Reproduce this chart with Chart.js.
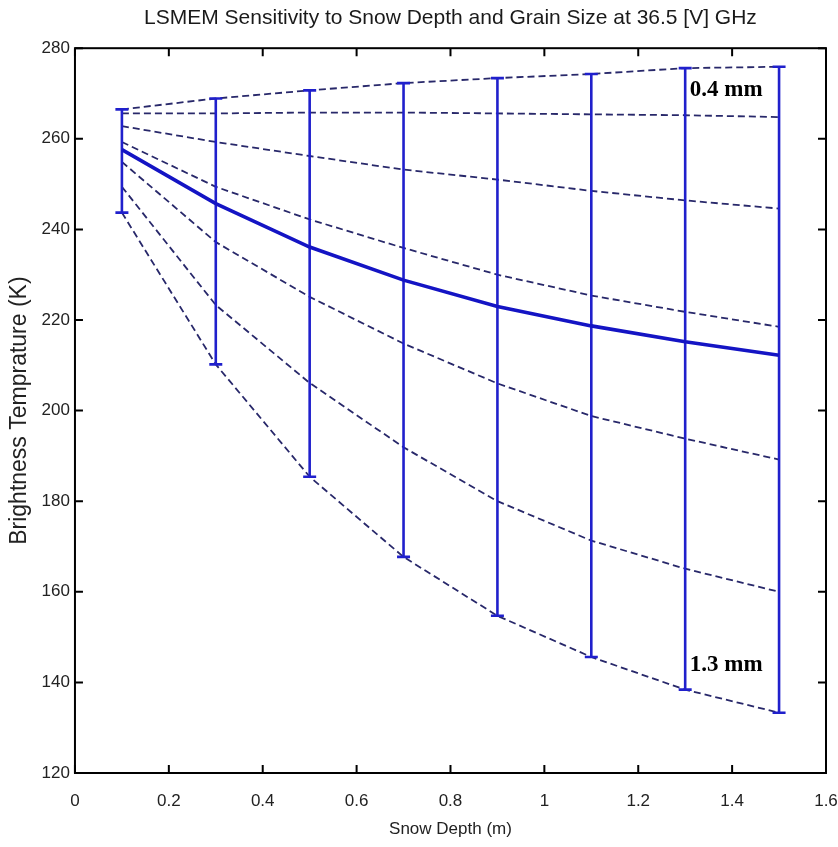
<!DOCTYPE html>
<html><head><meta charset="utf-8">
<script src="https://cdn.jsdelivr.net/npm/chart.js@4.4.1/dist/chart.umd.min.js"></script>
<style>html,body{margin:0;padding:0;background:#fff;} canvas{display:block;}</style>
</head><body>
<canvas id="c" width="838" height="847"></canvas>
<script>
// ---- data ----
const depths = [0.1, 0.3, 0.5, 0.7, 0.9, 1.1, 1.3, 1.5];
const grainSizes = ['0.4 mm', '0.55 mm', '0.7 mm', '0.85 mm', '1.0 mm', '1.15 mm', '1.3 mm'];
const tb_0_40 = [266.5, 268.9, 270.7, 272.3, 273.4, 274.3, 275.6, 275.9];
const tb_0_55 = [265.6, 265.6, 265.8, 265.8, 265.6, 265.4, 265.2, 264.8];
const tb_0_70 = [262.8, 259.3, 256.2, 253.2, 251.0, 248.5, 246.4, 244.6];
const tb_0_85 = [259.3, 249.4, 242.2, 235.9, 230.0, 225.4, 221.8, 218.5];
const tb_1_00 = [254.9, 237.2, 225.1, 214.8, 206.0, 198.8, 193.8, 189.2];
const tb_1_15 = [249.4, 223.3, 206.1, 191.9, 180.0, 171.3, 165.1, 160.0];
const tb_1_30 = [243.7, 210.2, 185.4, 167.7, 154.7, 145.6, 138.4, 133.3];
const tbMean  = [257.6, 245.7, 236.1, 228.8, 223.0, 218.7, 215.2, 212.2];
const xTickValues = [0, 0.2, 0.4, 0.6, 0.8, 1.0, 1.2, 1.4, 1.6];
const yTickValues = [120, 140, 160, 180, 200, 220, 240, 260, 280];
const titleText = 'LSMEM Sensitivity to Snow Depth and Grain Size at 36.5 [V] GHz';
const xTitle = 'Snow Depth (m)';
const yTitle = 'Brightness Temprature (K)';
const labelTop = '0.4 mm';
const labelBottom = '1.3 mm';

const grainSeries = [tb_0_40, tb_0_55, tb_0_70, tb_0_85, tb_1_00, tb_1_15, tb_1_30];

// ---- build datasets ----
const datasets = [];
grainSeries.forEach((s, k) => {
  datasets.push({
    label: grainSizes[k],
    data: depths.map((d, i) => ({x: d, y: s[i]})),
    borderColor: '#28286a',
    borderWidth: 1.8,
    borderDash: [7, 4],
    pointRadius: 0,
    tension: 0,
    order: 3
  });
});
depths.forEach((d, i) => {
  const vals = grainSeries.map(s => s[i]);
  datasets.push({
    label: 'range ' + d,
    data: [{x: d, y: Math.min(...vals)}, {x: d, y: Math.max(...vals)}],
    borderColor: '#2020cc',
    borderWidth: 2.6,
    pointStyle: 'line',
    pointRadius: 6.5,
    pointBorderWidth: 2.6,
    pointBorderColor: '#2020cc',
    order: 2
  });
});
datasets.push({
  label: 'mean',
  data: depths.map((d, i) => ({x: d, y: tbMean[i]})),
  borderColor: '#1414c4',
  borderWidth: 3.6,
  pointRadius: 0,
  tension: 0,
  order: 1
});

// ---- plugin: MATLAB style box, inward ticks, text labels ----
const boxPlugin = {
  id: 'box',
  beforeDraw(chart) {
    const ctx = chart.ctx;
    ctx.save();
    ctx.fillStyle = '#fff';
    ctx.fillRect(0, 0, chart.width, chart.height);
    ctx.restore();
  },
  afterDraw(chart) {
    const {ctx, chartArea: a, scales} = chart;
    ctx.save();
    ctx.strokeStyle = '#000';
    ctx.lineWidth = 2;
    ctx.beginPath();
    const tl = 8;
    xTickValues.forEach(v => {
      const px = scales.x.getPixelForValue(v);
      ctx.moveTo(px, a.bottom); ctx.lineTo(px, a.bottom - tl);
      ctx.moveTo(px, a.top); ctx.lineTo(px, a.top + tl);
    });
    yTickValues.forEach(v => {
      const py = scales.y.getPixelForValue(v);
      ctx.moveTo(a.left, py); ctx.lineTo(a.left + tl, py);
      ctx.moveTo(a.right, py); ctx.lineTo(a.right - tl, py);
    });
    ctx.stroke();
    ctx.strokeRect(a.left, a.top, a.right - a.left, a.bottom - a.top);
    // grain size labels
    ctx.fillStyle = '#000';
    ctx.font = 'bold 23px "Liberation Serif"';
    ctx.textAlign = 'left';
    ctx.textBaseline = 'alphabetic';
    ctx.fillText(labelTop, scales.x.getPixelForValue(1.31), scales.y.getPixelForValue(269.4));
    ctx.fillText(labelBottom, scales.x.getPixelForValue(1.31), scales.y.getPixelForValue(142.5));
    ctx.restore();
  }
};

const tickFont = {family: '"Liberation Sans", Arial, sans-serif', size: 17};

new Chart(document.getElementById('c'), {
  type: 'line',
  data: {datasets},
  options: {
    responsive: false,
    animation: false,
    devicePixelRatio: 1,
    layout: {padding: {left: 4, right: 12, top: 0, bottom: 0}},
    plugins: {
      legend: {display: false},
      tooltip: {enabled: false},
      title: {
        display: true,
        fullSize: false,
        text: titleText,
        color: '#1a1a1a',
        font: {family: '"Liberation Sans", Arial, sans-serif', size: 21, weight: 'normal'},
        padding: {top: 6, bottom: 17}
      }
    },
    scales: {
      x: {
        type: 'linear',
        min: 0, max: 1.6,
        afterBuildTicks: s => { s.ticks = xTickValues.map(v => ({value: v})); },
        afterFit: s => { s.paddingRight = 0; s.height = 74; },
        ticks: {
          color: '#222', font: tickFont, padding: 18, maxRotation: 0,
          callback: v => String(+Number(v).toFixed(1))
        },
        grid: {display: false, drawTicks: false},
        border: {display: false},
        title: {display: true, text: xTitle, color: '#222',
          font: {family: '"Liberation Sans", Arial, sans-serif', size: 17},
          padding: {top: 8, bottom: 7}}
      },
      y: {
        type: 'linear',
        min: 120, max: 280,
        afterBuildTicks: s => { s.ticks = yTickValues.map(v => ({value: v})); },
        ticks: {color: '#222', font: tickFont, padding: 5},
        grid: {display: false, drawTicks: false},
        border: {display: false},
        title: {display: true, text: yTitle, color: '#222',
          font: {family: '"Liberation Sans", Arial, sans-serif', size: 23},
          padding: {top: 2, bottom: 3}}
      }
    }
  },
  plugins: [boxPlugin]
});
</script>
</body></html>
